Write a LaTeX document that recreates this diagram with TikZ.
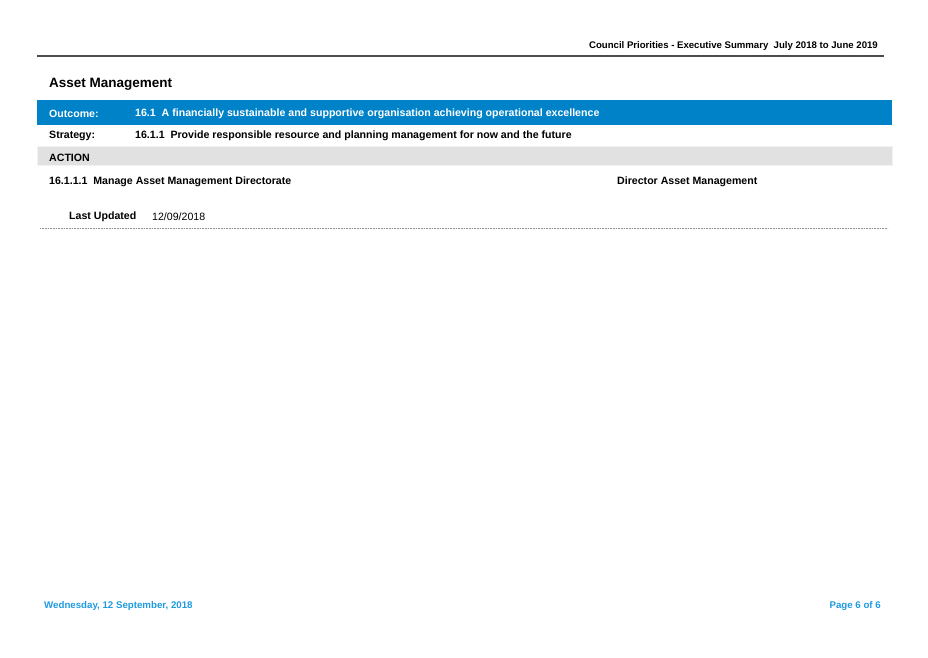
\documentclass[tikz,border=0pt]{standalone}
\usepackage{fontspec}
\setmainfont{Liberation Sans}
\usepackage{tikz}
\definecolor{barblue}{HTML}{0082C8}
\definecolor{footblue}{HTML}{1E9AE0}
\definecolor{bargray}{HTML}{E1E1E1}

\begin{document}
\begin{tikzpicture}
[x=1pt, y=-1pt, every node/.style={inner sep=0pt, anchor=west, font=\fontsize{10.6}{12}\selectfont\bfseries},
 bar/.style={rectangle, anchor=north west, minimum width=855pt},
 foot/.style={color=footblue, font=\fontsize{9.7}{12}\selectfont\bfseries}]
\useasboundingbox (0,0) rectangle (928,657);
\node (head) [anchor=east, font=\fontsize{9.6}{11}\selectfont\bfseries] at (878, 46) {Council Priorities - Executive Summary\ \ July 2018 to June 2019};
\draw [line width=1.2pt, color=black!70] (37,56) -- (884,56);
\node (title) [font=\fontsize{13.5}{16}\selectfont\bfseries] at (49, 84.5) {Asset Management};
\node (outbar) [bar, fill=barblue, minimum height=25pt] at (37, 100) {};
\node (outkey) [color=white] at (49, 114) {Outcome:};
\node (outval) [color=white] at (135, 114) {16.1\ \ A financially sustainable and supportive organisation achieving operational excellence};
\node (strkey) at (49, 136) {Strategy:};
\node (strval) at (135, 136) {16.1.1\ \ Provide responsible resource and planning management for now and the future};
\node (actbar) [bar, fill=bargray, draw=black!5, minimum height=19pt] at (37, 146) {};
\node (actkey) at (49, 157.5) {ACTION};
\node (action) at (49, 181.5) {16.1.1.1\ \ Manage Asset Management Directorate};
\node (owner) at (617, 181.5) {Director Asset Management};
\node (updkey) at (69, 216.5) {Last Updated};
\node (upddate) [font=\fontsize{10.6}{12}\selectfont] at (152, 216.5) {12/09/2018};
\draw [color=black!45, dash pattern=on 0.6pt off 1pt] (40,228) -- (888,228);
\node (date) [foot] at (44, 606) {Wednesday, 12 September, 2018};
\node (page) [foot, anchor=east] at (881, 606) {Page 6 of 6};
\end{tikzpicture}
\end{document}
